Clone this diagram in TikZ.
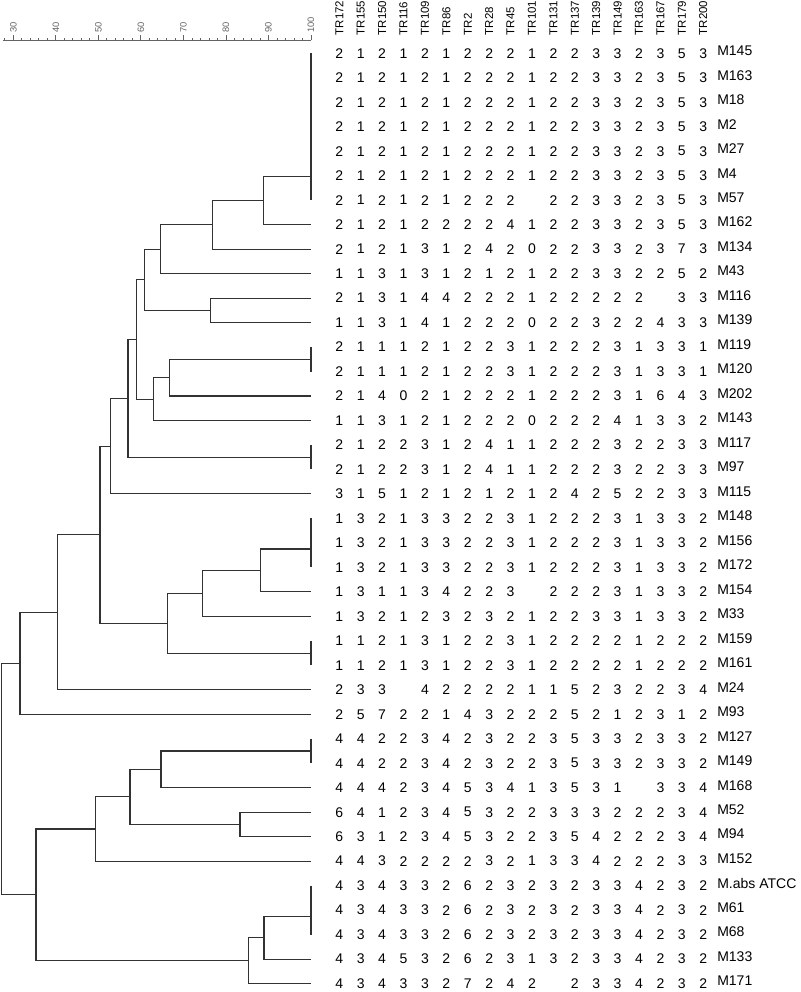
\documentclass[tikz,border=0pt]{standalone}
\usepackage{fontspec}
\setmainfont{Liberation Sans}
\usepackage{xcolor}
\usepackage{tikz}
\definecolor{branchgray}{RGB}{50,50,50}
\definecolor{rulergray}{RGB}{100,100,100}

% join two clusters at x = #2 (px); the new node sits half way between them
\newcommand\mergeat[4]{%
  \path (#3) -- (#4) coordinate[midway] (#1m);
  \coordinate (#1) at (#2,0 |- #1m);
  \draw[branch] (#3) -| (#1) |- (#4);}

\begin{document}
\begin{tikzpicture}[
  x=0.75pt, y=-0.75pt,
  branch/.style={draw=branchgray, line width=0.8pt},
  ruler/.style={draw=rulergray, line width=0.6pt},
  cell/.style={inner sep=0pt, font=\fontsize{10.5}{12}\selectfont},
  strain/.style={anchor=west, inner sep=0pt, font=\fontsize{10.5}{12}\selectfont},
  locus/.style={rotate=90, anchor=west, inner sep=0pt, font=\fontsize{8.6}{10}\selectfont},
  pct/.style={rotate=90, anchor=west, inner sep=0pt, text=rulergray,
              font=\fontsize{7}{8}\selectfont}]

  \useasboundingbox (0,0) rectangle (800,992);

  % similarity ruler
  \draw[ruler] (3,40) -- (311,40);
  \foreach \s in {28,30,...,100}
    \draw[ruler] ({311-(100-\s)*4.253},40) -- ++(0,-2);
  \foreach \s in {30,40,...,100} {
    \draw[ruler] ({311-(100-\s)*4.253},40) -- ++(0,-5);
    \node[pct] (p\s) at ({311-(100-\s)*4.253},33) {\s};
  }

  % loci
  \foreach \tr [count=\j from 0] in {TR172,TR155,TR150,TR116,TR109,TR86,TR2,TR28,TR45,
      TR101,TR131,TR137,TR139,TR149,TR163,TR167,TR179,TR200}
    \node[locus] (h\j) at ({339.3+21.41*\j},35.5) {\tr};

  % repeat numbers of each strain
  \foreach \name/\vals [count=\i from 0] in {
      M145/{2,1,2,1,2,1,2,2,2,1,2,2,3,3,2,3,5,3},
      M163/{2,1,2,1,2,1,2,2,2,1,2,2,3,3,2,3,5,3},
      M18/{2,1,2,1,2,1,2,2,2,1,2,2,3,3,2,3,5,3},
      M2/{2,1,2,1,2,1,2,2,2,1,2,2,3,3,2,3,5,3},
      M27/{2,1,2,1,2,1,2,2,2,1,2,2,3,3,2,3,5,3},
      M4/{2,1,2,1,2,1,2,2,2,1,2,2,3,3,2,3,5,3},
      M57/{2,1,2,1,2,1,2,2,2, ,2,2,3,3,2,3,5,3},
      M162/{2,1,2,1,2,2,2,2,4,1,2,2,3,3,2,3,5,3},
      M134/{2,1,2,1,3,1,2,4,2,0,2,2,3,3,2,3,7,3},
      M43/{1,1,3,1,3,1,2,1,2,1,2,2,3,3,2,2,5,2},
      M116/{2,1,3,1,4,4,2,2,2,1,2,2,2,2,2, ,3,3},
      M139/{1,1,3,1,4,1,2,2,2,0,2,2,3,2,2,4,3,3},
      M119/{2,1,1,1,2,1,2,2,3,1,2,2,2,3,1,3,3,1},
      M120/{2,1,1,1,2,1,2,2,3,1,2,2,2,3,1,3,3,1},
      M202/{2,1,4,0,2,1,2,2,2,1,2,2,2,3,1,6,4,3},
      M143/{1,1,3,1,2,1,2,2,2,0,2,2,2,4,1,3,3,2},
      M117/{2,1,2,2,3,1,2,4,1,1,2,2,2,3,2,2,3,3},
      M97/{2,1,2,2,3,1,2,4,1,1,2,2,2,3,2,2,3,3},
      M115/{3,1,5,1,2,1,2,1,2,1,2,4,2,5,2,2,3,3},
      M148/{1,3,2,1,3,3,2,2,3,1,2,2,2,3,1,3,3,2},
      M156/{1,3,2,1,3,3,2,2,3,1,2,2,2,3,1,3,3,2},
      M172/{1,3,2,1,3,3,2,2,3,1,2,2,2,3,1,3,3,2},
      M154/{1,3,1,1,3,4,2,2,3, ,2,2,2,3,1,3,3,2},
      M33/{1,3,2,1,2,3,2,3,2,1,2,2,3,3,1,3,3,2},
      M159/{1,1,2,1,3,1,2,2,3,1,2,2,2,2,1,2,2,2},
      M161/{1,1,2,1,3,1,2,2,3,1,2,2,2,2,1,2,2,2},
      M24/{2,3,3, ,4,2,2,2,2,1,1,5,2,3,2,2,3,4},
      M93/{2,5,7,2,2,1,4,3,2,2,2,5,2,1,2,3,1,2},
      M127/{4,4,2,2,3,4,2,3,2,2,3,5,3,3,2,3,3,2},
      M149/{4,4,2,2,3,4,2,3,2,2,3,5,3,3,2,3,3,2},
      M168/{4,4,4,2,3,4,5,3,4,1,3,5,3,1, ,3,3,4},
      M52/{6,4,1,2,3,4,5,3,2,2,3,3,3,2,2,2,3,4},
      M94/{6,3,1,2,3,4,5,3,2,2,3,5,4,2,2,2,3,4},
      M152/{4,4,3,2,2,2,2,3,2,1,3,3,4,2,2,2,3,3},
      M.abs ATCC/{4,3,4,3,3,2,6,2,3,2,3,2,3,3,4,2,3,2},
      M61/{4,3,4,3,3,2,6,2,3,2,3,2,3,3,4,2,3,2},
      M68/{4,3,4,3,3,2,6,2,3,2,3,2,3,3,4,2,3,2},
      M133/{4,3,4,5,3,2,6,2,3,1,3,2,3,3,4,2,3,2},
      M171/{4,3,4,3,3,2,7,2,4,2, ,2,3,3,4,2,3,2}} {
    \coordinate (l\i) at (311,{53.3+24.48*\i});
    \node[strain] (s\i) at (717,{50.8+24.48*\i}) {\name};
    \foreach \v [count=\j from 0] in \vals
      \node[cell] (c\i-\j) at ({339.3+21.41*\j},{53.3+24.48*\i}) {\v};
  }

  % dendrogram, upper part
  \mergeat{a1}{311}{l0}{l1}
  \mergeat{a2}{311}{a1}{l2}
  \mergeat{a3}{311}{a2}{l3}
  \mergeat{a4}{311}{a3}{l4}
  \mergeat{a5}{311}{a4}{l5}
  \mergeat{a6}{311}{a5}{l6}
  \mergeat{m1}{263.3}{a6}{l7}
  \mergeat{m2}{212.7}{m1}{l8}
  \mergeat{m3}{160.3}{m2}{l9}
  \mergeat{m4}{210.7}{l10}{l11}
  \mergeat{m5}{144.7}{m3}{m4}
  \mergeat{b1}{311}{l12}{l13}
  \mergeat{m6}{169.3}{b1}{l14}
  \mergeat{m7}{153.3}{m6}{l15}
  \mergeat{m8}{136.7}{m5}{m7}
  \mergeat{c1}{311}{l16}{l17}
  \mergeat{m9}{128}{m8}{c1}
  \mergeat{m10}{110.3}{m9}{l18}
  \mergeat{d1}{311}{l19}{l20}
  \mergeat{d2}{311}{d1}{l21}
  \mergeat{m11}{260.7}{d2}{l22}
  \mergeat{m12}{202.3}{m11}{l23}
  \mergeat{e1}{311}{l24}{l25}
  \mergeat{m13}{167.3}{m12}{e1}
  \mergeat{m14}{100}{m10}{m13}
  \mergeat{m15}{57.7}{m14}{l26}
  \mergeat{m16}{20}{m15}{l27}

  % dendrogram, lower part
  \mergeat{f1}{311}{l28}{l29}
  \mergeat{m17}{161}{f1}{l30}
  \mergeat{m18}{240}{l31}{l32}
  \mergeat{m19}{130}{m17}{m18}
  \mergeat{m20}{95.7}{m19}{l33}
  \mergeat{g1}{311}{l34}{l35}
  \mergeat{g2}{311}{g1}{l36}
  \mergeat{m21}{264}{g2}{l37}
  \mergeat{m22}{248.3}{m21}{l38}
  \mergeat{m23}{36}{m20}{m22}
  \mergeat{root}{1.7}{m16}{m23}
\end{tikzpicture}
\end{document}
